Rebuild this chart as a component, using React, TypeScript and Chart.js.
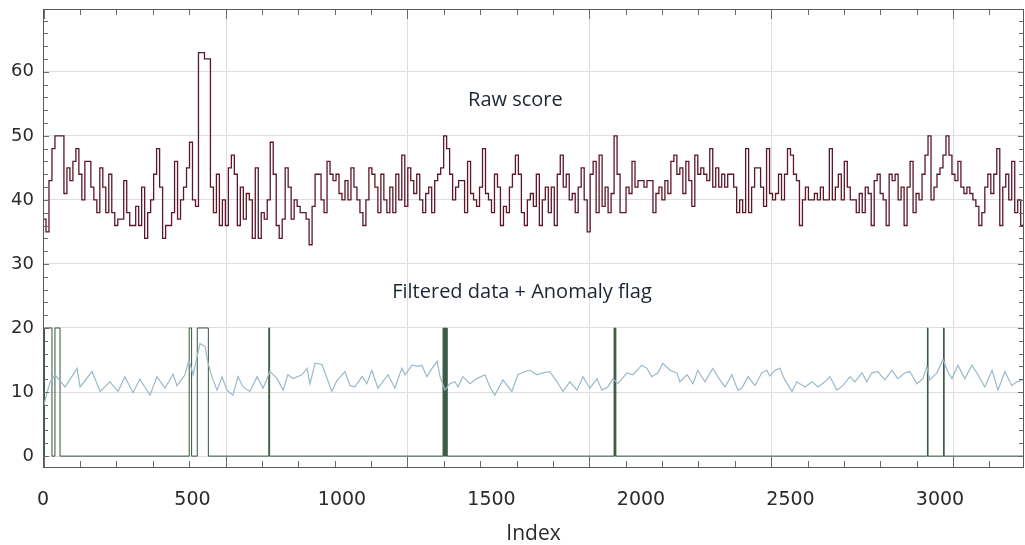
import React, { useEffect, useRef } from 'react';
import { Chart, registerables } from 'chart.js';

Chart.register(...registerables);

// ---------- data ----------
const RAW_STEP = 10; // index spacing of raw score samples
const rawScore = [
  37, 35, 43, 48, 50, 50, 50,
  41, 45, 43, 46, 48, 44, 40, 46, 46, 42, 40, 38, 45,
  42, 38, 44, 38, 36, 37, 37, 43, 38, 36,
  36, 39, 36, 42, 34, 38, 40, 44, 48, 42,
  34, 36, 36, 38, 46, 37, 40, 42, 45, 49,
  40, 39, 63, 63, 62, 62, 42, 38, 44, 36,
  40, 36, 45, 47, 44, 36, 42, 37, 41, 40,
  34, 45, 34, 38, 37, 40, 49, 44, 36, 34,
  37, 45, 42, 37, 40, 39, 38, 38, 37, 33,
  39, 44, 44, 40, 38, 46, 44, 43, 44, 41,
  40, 43, 40, 45, 42, 40, 38, 36, 40, 45,
  44, 42, 38, 44, 40, 38, 42, 38, 44, 40,
  47, 39, 45, 43, 41, 44, 40, 38, 41, 42,
  38, 43, 44, 45, 50, 48, 44, 40, 42, 43,
  43, 38, 46, 41, 40, 39, 42, 48, 41, 40,
  38, 44, 42, 36, 39, 38, 42, 44, 47, 44,
  38, 36, 40, 41, 39, 44, 36, 40, 42, 38,
  42, 36, 44, 47, 42, 44, 40, 41, 38, 42,
  45, 40, 35, 44, 46, 38, 47, 39, 42, 38,
  41, 50, 44, 38, 38, 42, 41, 46, 42, 43,
  43, 42, 43, 43, 38, 41, 42, 40, 43, 41,
  46, 47, 44, 45, 41, 46, 43, 39, 47, 44,
  45, 44, 43, 48, 42, 45, 42, 44, 42, 44,
  44, 42, 38, 40, 38, 48, 38, 42, 45, 45,
  42, 39, 48, 41, 40, 41, 44, 40, 44, 48,
  47, 44, 43, 36, 40, 42, 40, 40, 41, 40,
  42, 40, 40, 48, 40, 42, 44, 40, 46, 42,
  40, 40, 38, 41, 38, 42, 41, 36, 43, 44,
  41, 40, 36, 44, 43, 44, 40, 42, 36, 42,
  46, 38, 41, 40, 44, 47, 50, 40, 42, 44,
  45, 47, 50, 47, 44, 43, 46, 42, 41, 42,
  41, 40, 39, 36, 38, 42, 44, 41, 44, 48,
  36, 42, 44, 40, 46, 38, 40, 36, 38,
];

const filteredIndex = [
  0, 23, 40, 74, 114, 124, 164, 191, 224, 251, 274, 301, 324, 358, 381, 408, 435, 448, 475, 488,
  502, 525, 542, 552, 565, 582, 599, 615, 635, 652, 669, 692, 716, 736, 759, 783, 803, 819, 836, 866,
  883, 893, 910, 933, 966, 983, 1010, 1027, 1043, 1067, 1083, 1100, 1120, 1154, 1177, 1200, 1211, 1234, 1254, 1267,
  1284, 1301, 1318, 1328, 1344, 1361, 1378, 1388, 1404, 1428, 1451, 1478, 1495, 1511, 1538, 1568, 1588, 1612, 1629, 1652,
  1672, 1695, 1719, 1739, 1762, 1786, 1806, 1829, 1853, 1869, 1889, 1906, 1923, 1953, 1973, 2003, 2020, 2036, 2057, 2073,
  2097, 2120, 2130, 2154, 2174, 2190, 2214, 2240, 2264, 2281, 2304, 2324, 2337, 2358, 2381, 2404, 2421, 2431, 2448, 2465,
  2481, 2505, 2521, 2548, 2572, 2592, 2615, 2632, 2655, 2675, 2699, 2715, 2739, 2755, 2772, 2792, 2816, 2839, 2859, 2883,
  2899, 2923, 2943, 2956, 2966, 2990, 3010, 3026, 3040, 3060, 3083, 3107, 3127, 3150, 3174, 3194, 3217, 3240, 3257, 3277,
];
const filteredValue = [
  7.5, 11.5, 12.7, 10.8, 13.7, 10.8, 13.2, 10.1, 11.6, 10.1, 12.4, 9.9, 12, 9.5, 12.4, 10.6, 12.8, 11, 12.7, 15,
  12.7, 17.6, 17.1, 14.5, 12.4, 10.3, 12.4, 10.3, 9.5, 12.4, 10.8, 10.1, 12.4, 10.6, 13.2, 12.1, 10.3, 12.7, 12.1, 12.7,
  13.7, 11.3, 14.5, 14.3, 10.1, 11.8, 13.2, 11, 10.8, 12.4, 11.3, 13.4, 10.6, 12.7, 10.6, 13.7, 12.7, 14.2, 14, 14.2,
  12.4, 13.7, 14.8, 12.4, 10.3, 11.3, 11.6, 10.8, 12.4, 11.3, 12.1, 12.7, 10.8, 9.5, 11.9, 10.1, 12.7, 13.2, 13.4, 12.7,
  13, 13.2, 11.6, 10.1, 11.6, 10.3, 12.4, 10.6, 12.1, 10.3, 10.8, 12.1, 11.3, 13, 12.7, 14.2, 13.7, 12.4, 13, 14.5,
  13.4, 13, 11.6, 12.7, 11.3, 13.4, 11.6, 13.7, 11.9, 10.8, 12.7, 10.3, 10.6, 12.4, 11, 13, 13.4, 12.5, 13.4, 13.7,
  11.9, 10.1, 11.6, 10.8, 11.6, 10.8, 11.6, 12.4, 10.3, 11, 12.4, 11.6, 13, 11.6, 13, 13.2, 11.9, 13.4, 12.1, 13,
  13.2, 11.3, 12.1, 14, 11.9, 13, 15.1, 13.2, 12.1, 14.2, 12.1, 14.2, 12.7, 10.8, 13.4, 10.3, 13.2, 11, 11.6, 11.9,
];

const flagIndex = [
  0, 5, 30, 40, 57, 489, 497, 516, 553, 755, 758,
  1338, 1340, 1342, 1344, 1346, 1348, 1350, 1352,
  1910, 1912, 1914, 1916, 2958, 2960, 3012, 3014, 3281,
];
const flagValue = [
  0, 20, 0, 20, 0, 20, 0, 20, 0, 20, 0,
  20, 0, 20, 0, 20, 0, 20, 0,
  20, 0, 20, 0, 20, 0, 20, 0, 0,
];

const xTickValues = [0, 500, 1000, 1500, 2000, 2500, 3000];
const yTickValues = [0, 10, 20, 30, 40, 50, 60];

const X_MIN = 0;
const X_MAX = 3281;
const Y_MIN = -1.7;
const Y_MAX = 69.8;
const GRID_START = 2.5;
const GRID_STEP = 608.2;

const annotations = [
  { text: 'Raw score', x: 1580, y: 55.5 },
  { text: 'Filtered data + Anomaly flag', x: 1602, y: 25.5 },
];

// ---------- plugin: grid, frame, inward ticks, labels ----------
const decorPlugin = {
  id: 'decor',
  beforeDatasetsDraw(chart: any) {
    const { ctx, chartArea: a, scales } = chart;
    const xs = scales.x;
    ctx.save();
    ctx.strokeStyle = '#dedede';
    ctx.lineWidth = 1;
    for (let v = GRID_START + GRID_STEP; v < X_MAX; v += GRID_STEP) {
      const px = Math.round(xs.getPixelForValue(v)) + 0.5;
      ctx.beginPath();
      ctx.moveTo(px, a.top);
      ctx.lineTo(px, a.bottom);
      ctx.stroke();
    }
    ctx.restore();
  },
  afterDatasetsDraw(chart: any) {
    const { ctx, chartArea: a, scales } = chart;
    const xs = scales.x;
    const ys = scales.y;
    ctx.save();
    ctx.strokeStyle = '#6a6a6a';
    ctx.lineWidth = 1;
    const minor = GRID_STEP / 5;
    let k = 0;
    for (let v = GRID_START; v < X_MAX; v += minor, k++) {
      if (v <= X_MIN) continue;
      const px = Math.round(xs.getPixelForValue(v)) + 0.5;
      const len = k % 5 === 0 ? 10 : 6;
      ctx.beginPath();
      ctx.moveTo(px, a.bottom);
      ctx.lineTo(px, a.bottom - len);
      ctx.moveTo(px, a.top);
      ctx.lineTo(px, a.top + len);
      ctx.stroke();
    }
    for (let v = 0; v < Y_MAX; v += 2) {
      const py = Math.round(ys.getPixelForValue(v)) + 0.5;
      const len = v % 10 === 0 ? 6 : 5;
      ctx.beginPath();
      ctx.moveTo(a.left, py);
      ctx.lineTo(a.left + len, py);
      ctx.moveTo(a.right, py);
      ctx.lineTo(a.right - len, py);
      ctx.stroke();
    }
    ctx.strokeStyle = '#5a5a5a';
    ctx.strokeRect(Math.round(a.left) + 0.5, Math.round(a.top) + 0.5, Math.round(a.right - a.left) - 1, Math.round(a.bottom - a.top));
    ctx.fillStyle = '#1b2633';
    ctx.font = '20px "Open Sans", sans-serif';
    ctx.textAlign = 'center';
    ctx.textBaseline = 'middle';
    for (const an of annotations) {
      ctx.fillText(an.text, xs.getPixelForValue(an.x), ys.getPixelForValue(an.y));
    }
    ctx.restore();
  },
};

export default function App() {
  const canvasRef = useRef<HTMLCanvasElement | null>(null);

  useEffect(() => {
    const canvas = canvasRef.current;
    if (!canvas) return;
    const chart = new Chart(canvas, {
      type: 'line',
      data: {
        datasets: [
          {
            label: 'Raw score',
            data: rawScore.map((v, i) => ({ x: i * RAW_STEP, y: v })),
            borderColor: '#5e1629',
            borderWidth: 1.3,
            stepped: 'before',
            pointRadius: 0,
            fill: false,
          },
          {
            label: 'Filtered data',
            data: filteredIndex.map((x, i) => ({ x, y: filteredValue[i] })),
            borderColor: '#9bb9c9',
            borderWidth: 1.2,
            tension: 0,
            pointRadius: 0,
            fill: false,
          },
          {
            label: 'Anomaly flag',
            data: flagIndex.map((x, i) => ({ x, y: flagValue[i] })),
            borderColor: '#35553d',
            borderWidth: 1,
            stepped: 'before',
            pointRadius: 0,
            fill: false,
          },
        ],
      },
      options: {
        animation: false,
        responsive: false,
        layout: { padding: { top: 9, right: 1, left: 0, bottom: 0 } },
        plugins: {
          legend: { display: false },
          tooltip: { enabled: false },
        },
        scales: {
          x: {
            type: 'linear',
            min: X_MIN,
            max: X_MAX,
            afterFit: (s: any) => { s.height = 78; s.paddingLeft = 0; s.paddingRight = 0; },
            afterBuildTicks: (s: any) => { s.ticks = xTickValues.map((v) => ({ value: v })); },
            grid: { display: false, drawTicks: false },
            border: { display: false },
            ticks: {
              autoSkip: false,
              maxRotation: 0,
              padding: 22,
              color: '#2a2a2a',
              font: { family: '"DejaVu Sans", sans-serif', size: 19 },
              callback: (v: any) => String(v),
            },
            title: {
              display: true,
              text: 'Index',
              color: '#2a2a2a',
              font: { family: '"Open Sans", sans-serif', size: 21, lineHeight: 1 },
              padding: { top: 0, bottom: 0 },
            },
          },
          y: {
            type: 'linear',
            min: Y_MIN,
            max: Y_MAX,
            afterFit: (s: any) => { s.width = 43; s.paddingTop = 0; s.paddingBottom = 0; },
            afterBuildTicks: (s: any) => { s.ticks = yTickValues.map((v) => ({ value: v })); },
            grid: { color: '#dedede', lineWidth: 1, drawTicks: false },
            border: { display: false },
            ticks: {
              padding: 9,
              color: '#2a2a2a',
              font: { family: '"DejaVu Sans", sans-serif', size: 18 },
              callback: (v: any) => String(v),
            },
          },
        },
      },
      plugins: [decorPlugin],
    });
    return () => chart.destroy();
  }, []);

  return (
    <div style={{ position: 'fixed', left: 0, top: 0, width: 1025, height: 545, background: '#ffffff' }}>
      <canvas ref={canvasRef} width={1025} height={545} style={{ display: 'block' }} />
    </div>
  );
}
